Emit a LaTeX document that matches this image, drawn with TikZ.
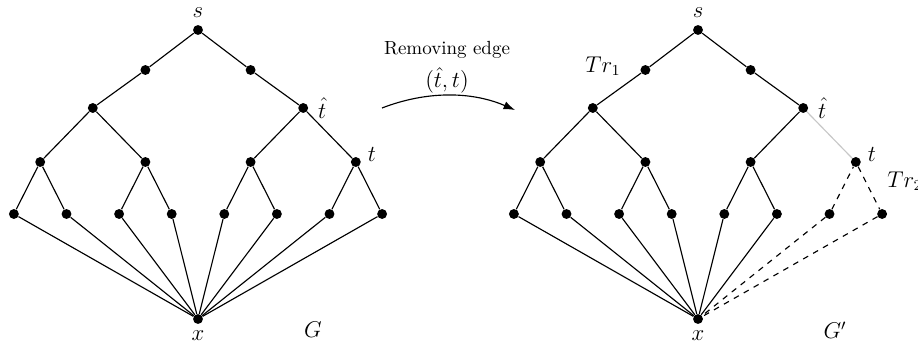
\documentclass[tikz,border=0pt]{standalone}
\usepackage{tikz}
\usetikzlibrary{positioning, arrows.meta}

\begin{document}
\begin{tikzpicture}[x=0.526pt, y=-0.526pt,
    vtx/.style={circle, fill=black, inner sep=0pt, minimum size=5.2pt},
    lab/.style={font=\large},
    edge/.style={line width=0.6pt},
    gone/.style={edge, dashed},
    cut/.style={line width=0.6pt, draw=black!22}]
  \useasboundingbox (0,0) rectangle (918,343);

  % the two trees, same layout
  \foreach \tr/\cx in {L/198, R/698}{
    \node[vtx] (\tr s) at (\cx,30) {};
    \node[vtx] (\tr a1) at (\cx-52.6,70) {};
    \node[vtx] (\tr a2) at (\cx+52.6,70) {};
    \node[vtx] (\tr b1) at (\cx-105.2,108) {};
    \node[vtx] (\tr b2) at (\cx+105.2,108) {};
    \foreach \o [count=\i] in {-6,-2,2,6}
      \node[vtx] (\tr c\i) at (\cx+\o*26.3,162) {};
    \foreach \o [count=\i] in {-7,-5,-3,-1,1,3,5,7}
      \node[vtx] (\tr d\i) at (\cx+\o*26.3,214) {};
    \node[vtx] (\tr x) at (\cx,319) {};

    \draw[edge] (\tr a1) -- (\tr s) -- (\tr a2) -- (\tr b2);
    \draw[edge] (\tr a1) -- (\tr b1);
    \draw[edge] (\tr c1) -- (\tr b1) -- (\tr c2);
    \draw[edge] (\tr b2) -- (\tr c3);
    \draw[edge] (\tr d1) -- (\tr c1) -- (\tr d2);
    \draw[edge] (\tr d3) -- (\tr c2) -- (\tr d4);
    \draw[edge] (\tr d5) -- (\tr c3) -- (\tr d6);
    \foreach \i in {1,...,6}
      \draw[edge] (\tr d\i) -- (\tr x);

    \node[lab, above=0pt of \tr s] (\tr slab) {$s$};
    \node[lab, below=0pt of \tr x] (\tr xlab) {$x$};
    \node[lab, right=1.5pt of \tr b2] (\tr thlab) {$\hat{t}$};
    \node[lab, right=0pt of \tr c4, yshift=4pt] (\tr tlab) {$t$};
  }

  % left: full graph G
  \draw[edge] (Lb2) -- (Lc4);
  \draw[edge] (Ld7) -- (Lc4) -- (Ld8);
  \draw[edge] (Ld7) -- (Lx);
  \draw[edge] (Ld8) -- (Lx);

  % right: G' after the cut
  \draw[cut] (Rb2) -- (Rc4);
  \draw[gone] (Rd7) -- (Rc4) -- (Rd8);
  \draw[gone] (Rd7) -- (Rx);
  \draw[gone] (Rd8) -- (Rx);

  \node[lab] (G) at (313,330) {$G$};
  \node[lab] (Gp) at (835,330) {$G'$};
  \node[lab] (tr1) at (603,66) {$Tr_1$};
  \node[lab] (tr2) at (905,181) {$Tr_2$};

  % arrow between the two
  \coordinate (arrS) at (382,108);
  \coordinate (arrE) at (515,110);
  \draw[edge, -{Latex[length=6pt, width=4.4pt]}] (arrS)
    .. controls (426,91) and (471,91) .. (arrE);
  \node[align=center] (arrlab) at (447,67)
    {Removing edge\\[4pt] {\large$(\hat{t},t)$}};
\end{tikzpicture}
\end{document}
